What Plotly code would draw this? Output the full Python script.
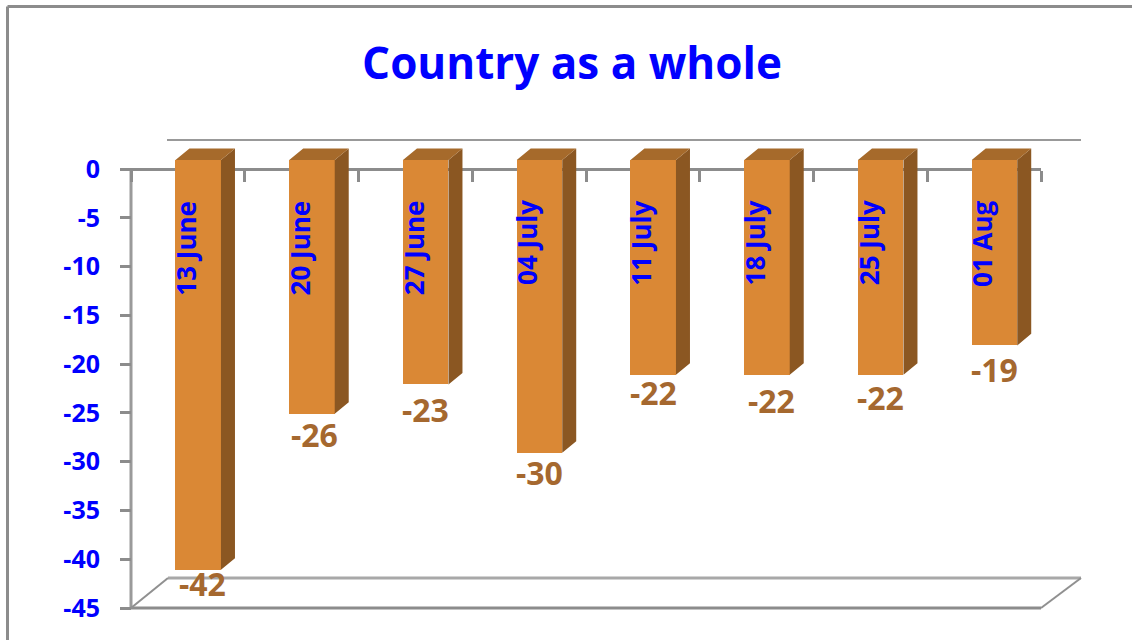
import plotly.graph_objects as go

categories = ["13 June", "20 June", "27 June", "04 July", "11 July", "18 July", "25 July", "01 Aug"]
values = [-42, -26, -23, -30, -22, -22, -22, -19]
y_ticks = [0, -5, -10, -15, -20, -25, -30, -35, -40, -45]
y_tick_labels = ["0", "-5", "-10", "-15", "-20", "-25", "-30", "-35", "-40", "-45"]
title_text = "Country as a whole"

W, H = 1132, 640
L, R, T, B = 131, 1041, 137, 608
FONT = "Open Sans"
GREY = "#8c8c8c"
BLUE = "#0000ff"
YMAX = 3.28

BAR_W = 0.4        # bar width, category units
SHIFT_X = 0.091    # depth offset of the front face
LIFT = 0.92
DX = 0.123         # depth of the box
DY = 1.18

# hand-placed nudges of the value labels as in the source picture (px)
label_dx = [4, 3, 0, 0, 0, 5, 0, 0]
label_dy = [14, 21, 25, 20, 18, 26, 23, 24]

centers = [i + 0.5 + SHIFT_X for i in range(len(values))]

side_x, side_y, top_x, top_y = [], [], [], []
for c, v in zip(centers, values):
    xr = c + BAR_W / 2
    xl = c - BAR_W / 2
    side_x += [xr, xr + DX, xr + DX, xr, xr, None]
    side_y += [LIFT, LIFT + DY, v + LIFT + DY, v + LIFT, LIFT, None]
    top_x += [xl, xl + DX, xr + DX, xr, xl, None]
    top_y += [LIFT, LIFT + DY, LIFT + DY, LIFT, LIFT, None]

fig = go.Figure()
fig.add_trace(go.Scatter(x=side_x, y=side_y, mode="lines", fill="toself", fillcolor="#8b5722",
                         line=dict(width=0, color="#8b5722"), hoverinfo="skip", showlegend=False))
fig.add_trace(go.Scatter(x=top_x, y=top_y, mode="lines", fill="toself", fillcolor="#a66a2b",
                         line=dict(width=0, color="#a66a2b"), hoverinfo="skip", showlegend=False))
fig.add_trace(go.Bar(x=centers, y=values, base=LIFT, width=BAR_W, marker=dict(color="#da8835", line=dict(width=0)),
                     showlegend=False, hoverinfo="skip"))


def px(x):
    return (x - L) / (R - L)


def py(y):
    return (B - y) / (B - T)


def seg(x0, y0, x1, y1, color=GREY, width=3):
    return dict(type="line", xref="paper", yref="paper", x0=px(x0), y0=py(y0), x1=px(x1), y1=py(y1),
                line=dict(color=color, width=width), layer="below")


shapes = [
    seg(7.5, 6.5, 7.5, 640),              # outer frame left
    seg(7.5, 6.5, 1132, 6.5),             # outer frame top
    seg(167, 140, 1081, 140, "#999999", 2),  # back wall top
    seg(131, 169, 131, 608, "#9a9a9a", 3),   # left wall
    seg(131, 608, 1041, 608, GREY, 3),    # floor front
    seg(168, 578, 1081, 578, "#a8a8a8", 3),  # floor back
    seg(131, 608, 168, 578, "#909090", 2),
    seg(1041, 608, 1081, 578, "#909090", 2),
]

annotations = []
for i, cat in enumerate(categories):
    annotations.append(dict(x=i + 0.5, y=-3.0, xshift=-2, xref="x", yref="y", text=cat, textangle=-90, showarrow=False,
                            xanchor="center", yanchor="top", font=dict(family=FONT, size=26, color=BLUE, weight="bold")))
for c, v, dx, dy in zip(centers, values, label_dx, label_dy):
    annotations.append(dict(x=c, y=v + LIFT, xref="x", yref="y", text=str(v), showarrow=False, xshift=dx, yshift=-dy,
                            xanchor="center", yanchor="middle", font=dict(family=FONT, size=32, color="#a5682f", weight="bold")))

fig.update_layout(
    width=W, height=H, autosize=False,
    margin=dict(l=L, r=W - R, t=T, b=H - B, pad=0),
    paper_bgcolor="white", plot_bgcolor="rgba(0,0,0,0)",
    title=dict(text=title_text, x=572 / W, y=1 - 64 / H, xanchor="center", yanchor="middle", xref="container", yref="container",
               font=dict(family=FONT, size=44, color=BLUE, weight="bold")),
    showlegend=False,
    shapes=shapes,
    annotations=annotations,
    bargap=0,
    xaxis=dict(range=[0, len(values)], tickmode="array", tickvals=list(range(len(values) + 1)), showticklabels=False,
               anchor="free", position=45 / (45 + YMAX), side="bottom", showline=True, linecolor=GREY, linewidth=3,
               ticks="outside", ticklen=11, tickwidth=3, tickcolor=GREY, showgrid=False, zeroline=False, layer="below traces"),
    yaxis=dict(range=[-45, YMAX], tickmode="array", tickvals=y_ticks, ticktext=y_tick_labels, showline=False,
               ticks="outside", ticklen=11, tickwidth=3, tickcolor=GREY, ticklabelstandoff=15,
               tickfont=dict(family=FONT, size=25, color=BLUE, weight="bold"), showgrid=False, zeroline=False,
               anchor="free", position=0),
)

fig.write_html("out.html", config=dict(displayModeBar=False),
               post_script="document.body.style.margin='0';document.body.style.overflow='hidden';")
